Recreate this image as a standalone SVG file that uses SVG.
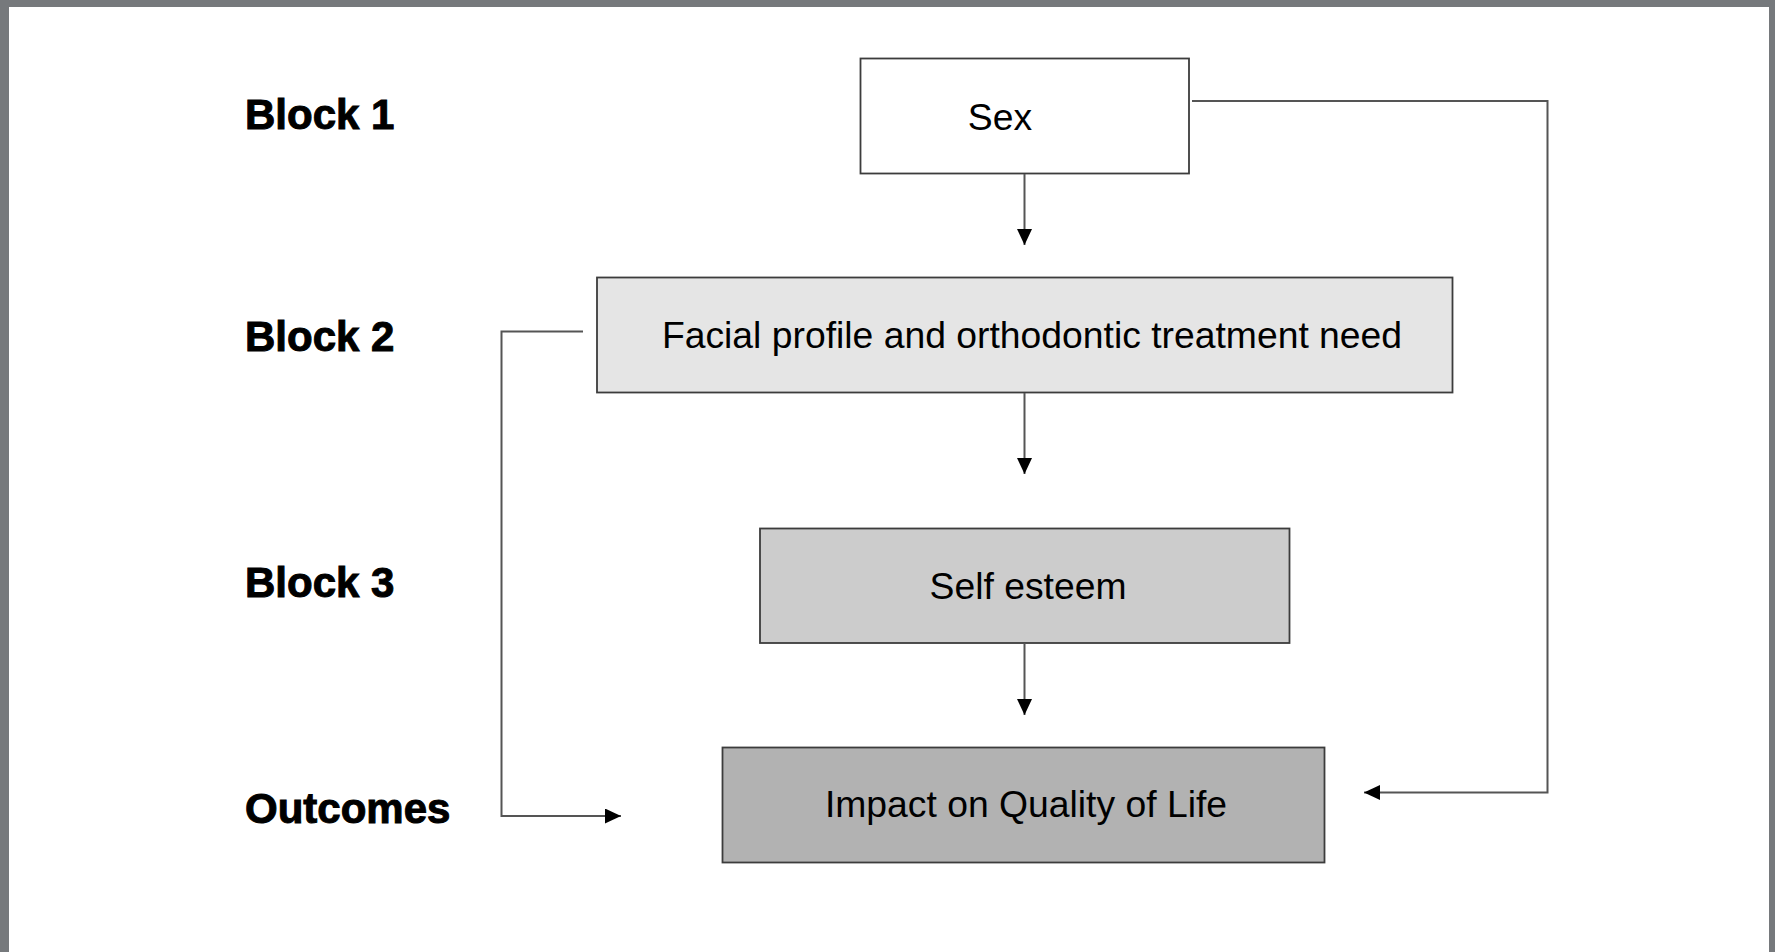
<svg xmlns="http://www.w3.org/2000/svg" width="1775" height="952" viewBox="0 0 1775 952">
<style>
.lbl{font-family:"Liberation Sans",Arial,sans-serif;font-weight:bold;font-size:42px;fill:#000;stroke:#000;stroke-width:1px}
.txt{font-family:"Liberation Sans",Arial,sans-serif;font-size:37.3px;fill:#000;text-anchor:middle}
.box{stroke:#3c3c3c;stroke-width:1.8}
.conn{fill:none;stroke:#555;stroke-width:2}
</style>
<defs>
<marker id="ah" markerUnits="userSpaceOnUse" markerWidth="17" markerHeight="15" refX="16" refY="7.5" orient="auto">
<path d="M0,0 L16,7.5 L0,15 Z" fill="#000"/>
</marker>
</defs>
<rect x="0" y="0" width="1775" height="952" fill="#76797c"/>
<rect x="9" y="7" width="1760" height="945" fill="#fff"/>
<g id="labels">
<text class="lbl" x="245" y="129">Block 1</text>
<text class="lbl" x="245" y="351">Block 2</text>
<text class="lbl" x="245" y="597">Block 3</text>
<text class="lbl" x="245" y="823">Outcomes</text>
</g>
<g id="node-sex">
<rect class="box" x="860.5" y="58.5" width="328.5" height="115" fill="#fff"/>
<text class="txt" x="1000" y="130">Sex</text>
</g>
<g id="node-facial">
<rect class="box" x="597" y="277.5" width="855.5" height="115" fill="#e5e5e5"/>
<text class="txt" x="1032" y="348">Facial profile and orthodontic treatment need</text>
</g>
<g id="node-self">
<rect class="box" x="760" y="528.5" width="529.5" height="114.5" fill="#cccccc"/>
<text class="txt" x="1028" y="599">Self esteem</text>
</g>
<g id="node-impact">
<rect class="box" x="722.5" y="747.5" width="602" height="115" fill="#b2b2b2"/>
<text class="txt" x="1026" y="817">Impact on Quality of Life</text>
</g>
<g id="connectors">
<path class="conn" d="M1024.5,174 V245" marker-end="url(#ah)"/>
<path class="conn" d="M1024.5,393 V474" marker-end="url(#ah)"/>
<path class="conn" d="M1024.5,643 V715" marker-end="url(#ah)"/>
<path class="conn" d="M1192,101 H1547.5 V792.5 H1364" marker-end="url(#ah)"/>
<path class="conn" d="M583,331.5 H501.5 V816 H621" marker-end="url(#ah)"/>
</g>
</svg>
